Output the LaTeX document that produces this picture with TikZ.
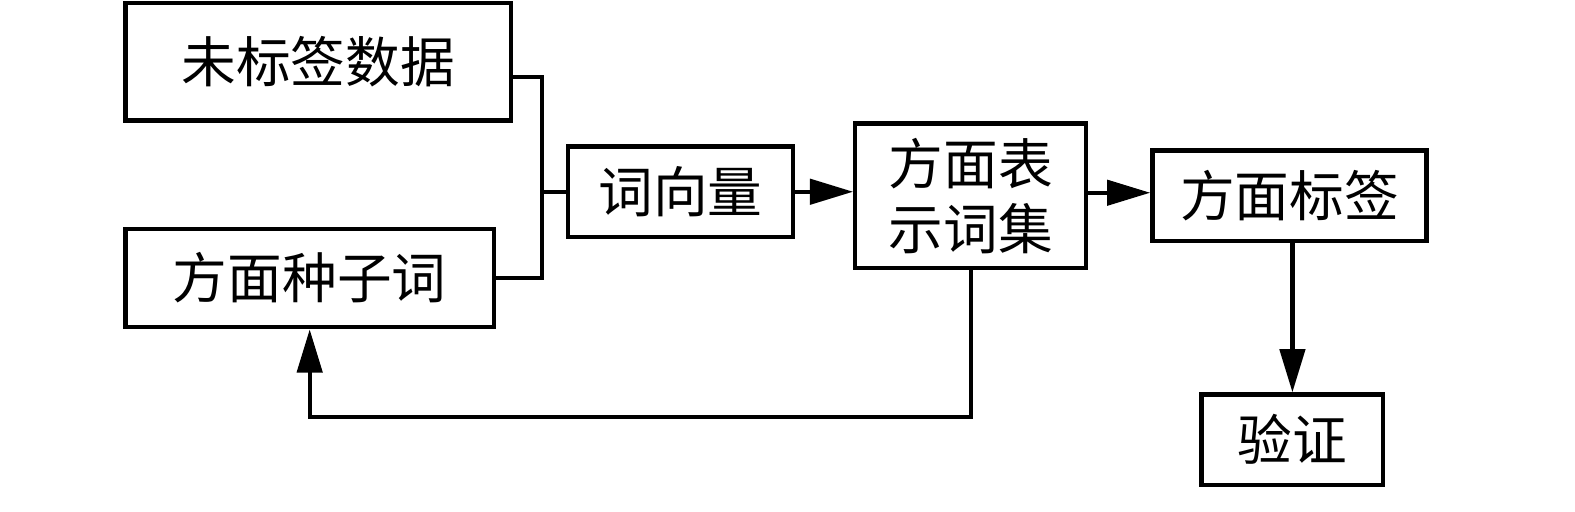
\documentclass[tikz,border=0pt]{standalone}
\usepackage{fontspec}
\newfontfamily\cjk{Noto Sans CJK SC}
\usetikzlibrary{arrows.meta}

\begin{document}
\begin{tikzpicture}[line width=1.2pt,
    box/.style={rectangle, draw, inner sep=0pt, align=center,
      font=\cjk\fontsize{15.5}{18.5}\selectfont},
    arr/.style={-{Triangle[length=4.3mm, width=2.5mm]}}
    ]
    \useasboundingbox (0,0) rectangle (15.69,-5.10);
    % boxes
    \node[box, minimum width=3.84cm, minimum height=1.17cm] (unlab) at (3.17,-0.615) {未标签数据};
    \node[box, minimum width=3.67cm, minimum height=0.98cm] (seed) at (3.085,-2.77) {方面种子词};
    \node[box, minimum width=2.24cm, minimum height=0.90cm] (wv) at (6.78,-1.91) {词向量};
    \node[box, minimum width=2.30cm, minimum height=1.44cm] (asp) at (9.67,-1.95) {方面表\\示词集};
    \node[box, minimum width=2.73cm, minimum height=0.90cm] (lab) at (12.845,-1.95) {方面标签};
    \node[box, minimum width=1.81cm, minimum height=0.90cm] (ver) at (12.875,-4.38) {验证};
    % merge of the two inputs
    \coordinate (j1) at (5.40,-0.77);
    \coordinate (j2) at (5.40,-2.77);
    \draw (unlab.east |- j1) -- (j1) -- (j2) -- (seed.east);
    \draw (wv.west) -- (wv.west -| j1);
    % arrows
    \draw[arr] (wv.east) -- (asp.west |- wv.east);
    \draw[arr] (asp.east |- 0,-1.92) -- (lab.west |- 0,-1.92);
    \draw[arr] (lab.south -| ver.north) -- (ver.north);
    \draw[arr] (asp.south) -- ++(0,-1.46) -| (seed.south);
  \end{tikzpicture}
\end{document}
